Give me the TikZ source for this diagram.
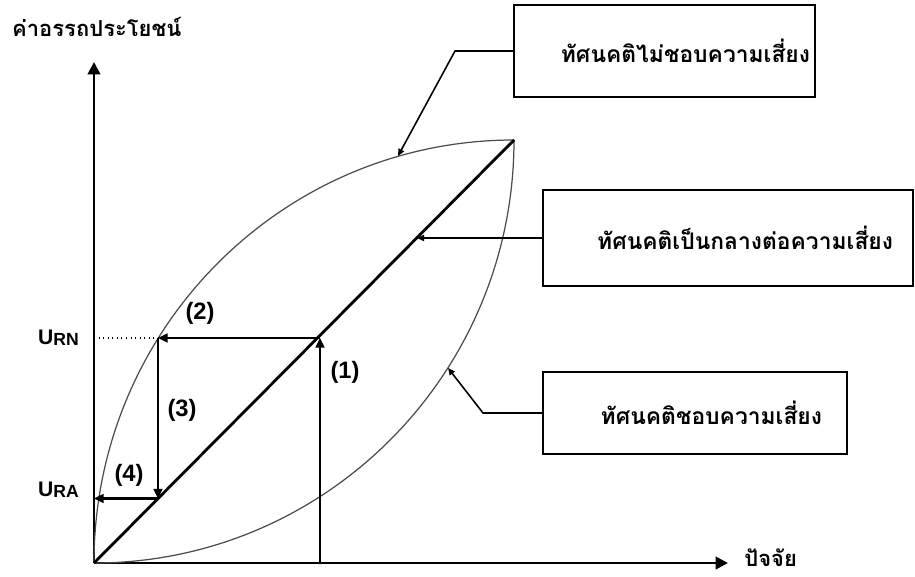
\documentclass[tikz,border=0pt]{standalone}
\usepackage{fontspec}
\setmainfont{Liberation Sans}
\newfontfamily\thaifont[Script=Thai]{Loma}
\usetikzlibrary{positioning,arrows.meta}

\begin{document}
\begin{tikzpicture}[x=0.02cm,y=0.02cm,
        axis/.style={line width=1.6pt,-{Triangle[length=7pt,width=7pt]}},
        curve/.style={line width=0.7pt,color=black!70},
        move/.style={line width=1.2pt,-{Triangle[length=5.5pt,width=5pt]}},
        callout/.style={line width=0.9pt,-{Triangle[length=4pt,width=3.5pt]}},
        box/.style={draw,line width=1.2pt,align=right,inner ysep=0pt,
            font=\thaifont\bfseries\fontsize{13}{15}\selectfont},
        num/.style={font=\bfseries\fontsize{13.5}{15}\selectfont},
        thai/.style={font=\thaifont\bfseries\fontsize{12.5}{15}\selectfont}]
\useasboundingbox (0,0) rectangle (915,576);

\coordinate (O) at (94,13);
\coordinate (T) at (514,436);
\coordinate (ytop) at (94,514);
\coordinate (xend) at (728,13);
\coordinate (A1) at (320,13);
\coordinate (A2) at (320,238);
\coordinate (A3) at (158,238);
\coordinate (A4) at (158,77.5);
\coordinate (A5) at (94,77.5);

\draw[axis] (O) -- (ytop);
\draw[axis] (O) -- (xend);
\node[thai,anchor=base west,inner sep=0pt] (xlab) at (744,10) {ปัจจัย};
\node[thai,anchor=west] (ylab) at (6,549) {ค่าอรรถประโยชน์};

\draw[curve] (O) arc[start angle=180,end angle=90,x radius=420,y radius=423];
\draw[curve] (O) arc[start angle=270,end angle=360,x radius=420,y radius=423];
\draw[line width=1.6pt] (O) -- (T);

\draw[dotted,line width=0.6pt] (O |- A3) -- (A3);
\draw[move] (A1) -- (A2);
\draw[move] (A2) -- (A3);
\draw[move] (A3) -- (A4);
\draw[move] (A4) -- (A5);

\node[num] (l1) at (345,204) {(1)};
\node[num] (l2) at (200,263) {(2)};
\node[num] (l3) at (182,166) {(3)};
\node[num] (l4) at (129,101) {(4)};
\node[anchor=east] (urn) at (85,238)
    {\bfseries\fontsize{12}{14}\selectfont U\raisebox{-0.8pt}{\fontsize{10}{12}\selectfont RN}};
\node[anchor=east] (ura) at (85,86)
    {\bfseries\fontsize{12}{14}\selectfont U\raisebox{-0.8pt}{\fontsize{10}{12}\selectfont RA}};

\node[box,text width=5.82cm,inner xsep=0.1cm,minimum height=1.84cm] (averse)
    at (664.5,525) {ทัศนคติไม่ชอบความเสี่ยง};
\node[box,text width=6.6cm,inner xsep=0.4cm,minimum height=1.92cm] (neutral)
    at (728,338) {ทัศนคติเป็นกลางต่อความเสี่ยง};
\node[box,text width=5.08cm,inner xsep=0.5cm,minimum height=1.64cm] (lover)
    at (695,163) {ทัศนคติชอบความเสี่ยง};

\coordinate (pa) at (398,420);
\coordinate (pn) at (417,338);
\coordinate (pl) at (448,208);
\draw[callout] (averse.west) -- (455,525) -- (pa);
\draw[callout] (neutral.west) -- (pn);
\draw[callout] (lover.west) -- (483,163) -- (pl);

\end{tikzpicture}
\end{document}
